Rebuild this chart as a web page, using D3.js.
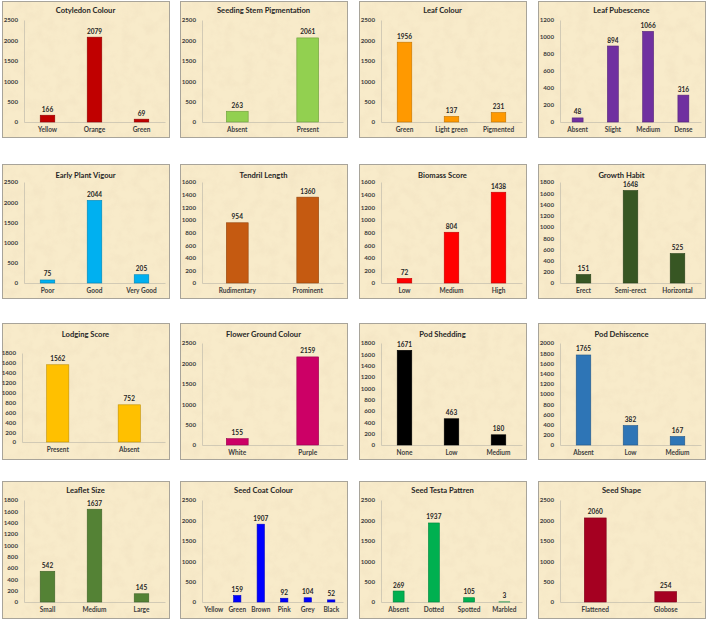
<!DOCTYPE html>
<html><head><meta charset="utf-8">
<script src="https://cdn.jsdelivr.net/npm/d3@7"></script>
<style>
html,body{margin:0;padding:0;background:#fff;}
svg{display:block;}
text{font-family:Lato,"Open Sans",sans-serif;}
</style></head>
<body>
<script>
// ---------- DATA ----------
const titles = ["Cotyledon Colour","Seeding Stem Pigmentation","Leaf Colour","Leaf Pubescence",
  "Early Plant Vigour","Tendril Length","Biomass Score","Growth Habit",
  "Lodging Score","Flower Ground Colour","Pod Shedding","Pod Dehiscence",
  "Leaflet Size","Seed Coat Colour","Seed Testa Pattren","Seed Shape"];

const cotyledonCats = ["Yellow","Orange","Green"];            const cotyledonVals = [166,2079,69];
const stemCats = ["Absent","Present"];                         const stemVals = [263,2061];
const leafColourCats = ["Green","Light green","Pigmented"];    const leafColourVals = [1956,137,231];
const pubescenceCats = ["Absent","Slight","Medium","Dense"];   const pubescenceVals = [48,894,1066,316];
const vigourCats = ["Poor","Good","Very Good"];                const vigourVals = [75,2044,205];
const tendrilCats = ["Rudimentary","Prominent"];               const tendrilVals = [954,1360];
const biomassCats = ["Low","Medium","High"];                   const biomassVals = [72,804,1438];
const growthCats = ["Erect","Semi-erect","Horizontal"];        const growthVals = [151,1648,525];
const lodgingCats = ["Present","Absent"];                      const lodgingVals = [1562,752];
const flowerCats = ["White","Purple"];                         const flowerVals = [155,2159];
const shedCats = ["None","Low","Medium"];                      const shedVals = [1671,463,180];
const dehisCats = ["Absent","Low","Medium"];                   const dehisVals = [1765,382,167];
const leafletCats = ["Small","Medium","Large"];                const leafletVals = [542,1637,145];
const seedCoatCats = ["Yellow","Green","Brown","Pink","Grey","Black"]; const seedCoatVals = [0,159,1907,92,104,52];
const testaCats = ["Absent","Dotted","Spotted","Marbled"];     const testaVals = [269,1937,105,3];
const shapeCats = ["Flattened","Globose"];                     const shapeVals = [2060,254];

const categories = [cotyledonCats,stemCats,leafColourCats,pubescenceCats,vigourCats,tendrilCats,biomassCats,growthCats,
  lodgingCats,flowerCats,shedCats,dehisCats,leafletCats,seedCoatCats,testaCats,shapeCats];
const values = [cotyledonVals,stemVals,leafColourVals,pubescenceVals,vigourVals,tendrilVals,biomassVals,growthVals,
  lodgingVals,flowerVals,shedVals,dehisVals,leafletVals,seedCoatVals,testaVals,shapeVals];
const yMax  = [2500,2500,2500,1200, 2500,1600,1600,1800, 1800,2500,1800,2000, 1800,2500,2500,2500];
const yStep = [500,500,500,200, 500,200,200,200, 200,500,200,200, 200,500,500,500];
const colors = ["#c00000","#92d050","#ff9900","#7030a0",
  "#00b0f0","#c55a11","#ff0000","#375623",
  "#ffc000","#cc0066","#000000","#2e75b6",
  "#548235","#0000ff","#00b050","#a50021"];

// ---------- LAYOUT ----------
const W = 708, H = 619;
const colLeft = [2,180,359,538], panelW = 167;
const rowTop = [1,164,323,481], rowBot = [137,298,459,618];
const plotTopRow = [20,182,343,500], plotBotRow = [122,283,445,602];
const titleYRow = [13,178,337,493];
const plotTopAdj = {8:353};
const plotBotAdj = {8:442};
const plotLeftAdj = {8:-2};

const svg = d3.select("body").append("svg").attr("width",W).attr("height",H);
const defs = svg.append("defs");
const f = defs.append("filter").attr("id","paper").attr("x",0).attr("y",0).attr("width","100%").attr("height","100%");
f.append("feTurbulence").attr("type","fractalNoise").attr("baseFrequency","0.09").attr("numOctaves",3).attr("seed",4).attr("result","n");
f.append("feColorMatrix").attr("in","n").attr("type","matrix")
  .attr("values","0 0 0 0 0.86  0 0 0 0 0.74  0 0 0 0 0.52  0 0 0 1.6 -0.62").attr("result","c");
f.append("feComposite").attr("in","c").attr("in2","SourceGraphic").attr("operator","in");

titles.forEach((t,i)=>{
  const r = Math.floor(i/4), c = i%4;
  const x0 = colLeft[c], y0 = rowTop[r], w = panelW, h = rowBot[r]-rowTop[r];
  const g = svg.append("g");
  g.append("rect").attr("x",x0+0.5).attr("y",y0+0.5).attr("width",w).attr("height",h)
    .attr("fill","#f8ebca");
  g.append("rect").attr("x",x0+0.5).attr("y",y0+0.5).attr("width",w).attr("height",h)
    .attr("fill","#fff").attr("filter","url(#paper)").attr("opacity",0.55);
  g.append("rect").attr("x",x0+0.5).attr("y",y0+0.5).attr("width",w).attr("height",h)
    .attr("fill","none").attr("stroke","#a8a49a").attr("stroke-width",1);

  const pl = x0 + 22 + (plotLeftAdj[i]||0), pr = x0 + w - 4;
  const pt = plotTopAdj[i] || plotTopRow[r], pb = plotBotAdj[i] || plotBotRow[r];

  g.append("text").attr("x",x0+w/2).attr("y",titleYRow[r]).attr("text-anchor","middle")
    .attr("font-size","7.6px").attr("font-weight","bold").attr("fill","#262626").text(t);

  const y = d3.scaleLinear().domain([0,yMax[i]]).range([pb,pt]);
  const x = d3.scaleBand().domain(categories[i]).range([pl,pr]).paddingInner(0.69).paddingOuter(0.345);

  const ya = g.append("g").attr("transform",`translate(${pl},0)`)
    .call(d3.axisLeft(y).tickValues(d3.range(0,yMax[i]+1,yStep[i])).tickSize(0).tickPadding(6).tickFormat(d3.format("d")));
  ya.select(".domain").attr("stroke","#c8c2b0").attr("stroke-width",0.8);
  ya.selectAll("text").attr("font-size","6.2px").attr("font-weight","bold").attr("fill","#404040").attr("font-family","Lato,sans-serif");

  const xa = g.append("g").attr("transform",`translate(0,${pb})`)
    .call(d3.axisBottom(x).tickSize(0).tickPadding(5));
  xa.select(".domain").attr("stroke","#c8c2b0").attr("stroke-width",0.8);
  xa.selectAll("text").attr("font-size","6.5px").attr("font-weight","bold").attr("fill","#404040").attr("font-family","Lato,sans-serif");

  const data = categories[i].map((k,j)=>({k, v: values[i][j]}));
  g.selectAll(".bar").data(data).enter().append("rect")
    .attr("x",d=>x(d.k)).attr("width",x.bandwidth())
    .attr("y",d=>y(d.v)).attr("height",d=>pb-y(d.v))
    .attr("fill",colors[i]).attr("stroke",d3.color(colors[i]).darker(0.8)).attr("stroke-width",0.6);
  g.selectAll(".lbl").data(data.filter(d=>d.v>0)).enter().append("text")
    .attr("x",d=>x(d.k)+x.bandwidth()/2).attr("y",d=>y(d.v)-3.5)
    .attr("text-anchor","middle").attr("font-size","6.5px").attr("font-weight","bold").attr("fill","#262626")
    .text(d=>d.v);
});
</script>
</body></html>
